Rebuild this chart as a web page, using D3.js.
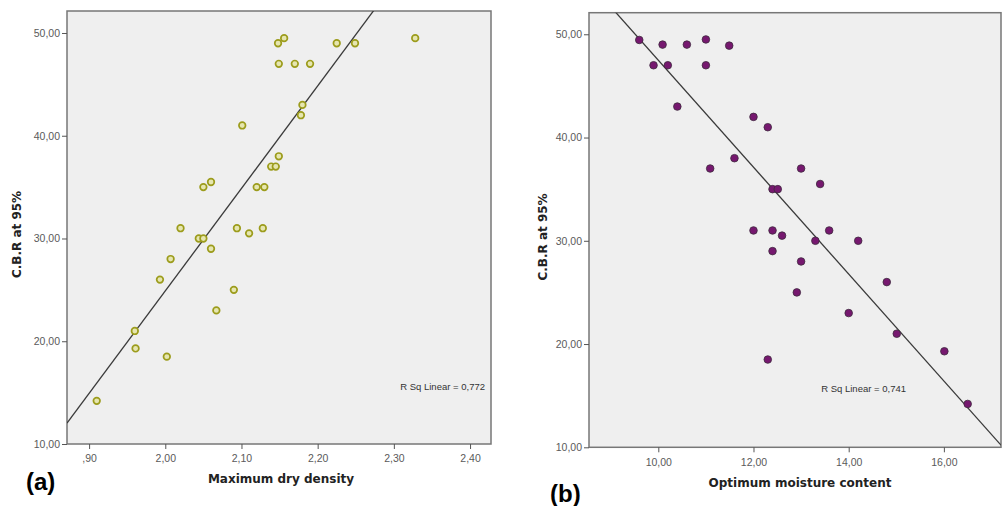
<!DOCTYPE html>
<html>
<head>
<meta charset="utf-8">
<script src="https://cdn.jsdelivr.net/npm/d3@7"></script>
<style>
  body { margin: 0; background: #fff; }
  svg { display: block; }
  .tick text { font-family: "Liberation Sans", Arial, sans-serif; font-size: 10.5px; fill: #5a5a5a; }
  .tick line { stroke: #555; }
  .domain { display: none; }
  .axis-title { font-family: "DejaVu Sans", Verdana, sans-serif; font-weight: bold; font-size: 12px; fill: #222; }
  .panel-tag { font-family: "Liberation Sans", Arial, sans-serif; font-weight: bold; font-size: 24px; fill: #000; }
  .rsq { font-family: "Liberation Sans", Arial, sans-serif; font-size: 9.5px; fill: #333; }
</style>
</head>
<body>
<div id="chart"></div>
<script>
// panel (a): maximum dry density vs CBR
const densityX = [1.91, 1.96, 1.961, 2.002, 1.993, 2.007, 2.02, 2.044, 2.05, 2.06, 2.05, 2.06, 2.101,
  2.067, 2.09, 2.094, 2.11, 2.128, 2.12, 2.13, 2.139, 2.145, 2.149, 2.178, 2.18,
  2.149, 2.17, 2.19, 2.148, 2.156, 2.225, 2.249, 2.328];
const densityCBR = [14.2, 21.0, 19.3, 18.5, 26.0, 28.0, 31.0, 30.0, 30.0, 29.0, 35.0, 35.5, 41.0,
  23.0, 25.0, 31.0, 30.5, 31.0, 35.0, 35.0, 37.0, 37.0, 38.0, 42.0, 43.0,
  47.0, 47.0, 47.0, 49.0, 49.5, 49.0, 49.0, 49.5];
const densityFit = [-174.6, 99.75]; // intercept, slope
const densityTicks = [1.9, 2.0, 2.1, 2.2, 2.3, 2.4];
const densityTickLabels = [",90", "2,00", "2,10", "2,20", "2,30", "2,40"];

// panel (b): optimum moisture content vs CBR
const moistureX = [9.6, 10.09, 10.6, 11.0, 11.49, 9.9, 10.2, 11.0, 10.4, 12.0, 11.6, 11.09, 12.0,
  12.3, 13.0, 13.4, 12.4, 12.51, 12.4, 12.6, 13.59, 13.3, 14.2, 12.4,
  13.0, 12.91, 14.8, 14.0, 15.01, 16.01, 12.3, 16.5];
const moistureCBR = [49.45, 49.0, 49.0, 49.5, 48.9, 47.0, 47.0, 47.0, 43.0, 42.0, 38.0, 37.0, 31.0,
  41.0, 37.0, 35.5, 35.0, 35.0, 31.0, 30.5, 31.0, 30.0, 30.0, 29.0,
  28.0, 25.0, 26.0, 23.0, 21.0, 19.3, 18.5, 14.2];
const moistureFit = [99.27, -5.178];
const moistureTicks = [10, 12, 14, 16];
const moistureTickLabels = ["10,00", "12,00", "14,00", "16,00"];

const cbrTicks = [10, 20, 30, 40, 50];
const cbrTickLabels = ["10,00", "20,00", "30,00", "40,00", "50,00"];

const width = 1002, height = 506;

const svg = d3.select("#chart").append("svg")
    .attr("width", width)
    .attr("height", height);

function drawPanel(opts) {
    const x = d3.scaleLinear().domain(opts.xDomain).range([opts.left, opts.right]);
    const y = d3.scaleLinear().domain(opts.yDomain).range([opts.bottom, opts.top]);
    const g = svg.append("g");

    const clipId = "clip-" + opts.name;
    g.append("clipPath").attr("id", clipId)
        .append("rect")
        .attr("x", opts.left).attr("y", opts.top)
        .attr("width", opts.right - opts.left).attr("height", opts.bottom - opts.top);

    g.append("rect")
        .attr("x", opts.left).attr("y", opts.top)
        .attr("width", opts.right - opts.left).attr("height", opts.bottom - opts.top)
        .attr("fill", "#efefef")
        .attr("stroke", "#777")
        .attr("stroke-width", 1.5);

    // axes
    g.append("g")
        .attr("transform", `translate(${opts.left},0)`)
        .call(d3.axisLeft(y).tickValues(cbrTicks).tickSize(5).tickPadding(2)
            .tickFormat((d, i) => cbrTickLabels[i]));

    g.append("g")
        .attr("transform", `translate(0,${opts.bottom})`)
        .call(d3.axisBottom(x).tickValues(opts.xTicks).tickSize(5).tickPadding(6)
            .tickFormat((d, i) => opts.xTickLabels[i]));

    // regression line
    const fx = v => opts.fit[0] + opts.fit[1] * v;
    g.append("line")
        .attr("clip-path", `url(#${clipId})`)
        .attr("x1", x(opts.xDomain[0])).attr("y1", y(fx(opts.xDomain[0])))
        .attr("x2", x(opts.xDomain[1])).attr("y2", y(fx(opts.xDomain[1])))
        .attr("stroke", "#3a3a3a")
        .attr("stroke-width", 1.3);

    // points
    g.append("g").selectAll("circle")
        .data(d3.zip(opts.xs, opts.ys))
        .enter().append("circle")
            .attr("cx", d => x(d[0]))
            .attr("cy", d => y(d[1]))
            .attr("r", opts.r)
            .attr("fill", opts.fill)
            .attr("stroke", opts.stroke)
            .attr("stroke-width", opts.strokeWidth);

    // titles
    g.append("text")
        .attr("class", "axis-title")
        .attr("text-anchor", "middle")
        .attr("transform", `translate(${opts.yTitleX},${(opts.top + opts.bottom) / 2 + 7}) rotate(-90)`)
        .text("C.B.R at 95%");

    g.append("text")
        .attr("class", "axis-title")
        .attr("text-anchor", "middle")
        .attr("x", opts.xTitleX)
        .attr("y", opts.xTitleY)
        .text(opts.xTitle);

    g.append("text")
        .attr("class", "rsq")
        .attr("text-anchor", "end")
        .attr("x", opts.rsqX)
        .attr("y", opts.rsqY)
        .text(opts.rsq);

    g.append("text")
        .attr("class", "panel-tag")
        .attr("x", opts.tagX)
        .attr("y", opts.tagY)
        .text(opts.tag);
}

drawPanel({
    name: "a",
    xs: densityX, ys: densityCBR, fit: densityFit,
    xDomain: [1.871, 2.4275], yDomain: [10, 52.14],
    left: 67, right: 491, top: 11, bottom: 444,
    xTicks: densityTicks, xTickLabels: densityTickLabels,
    r: 3.3, fill: "#e6e6b0", stroke: "#9c9c1c", strokeWidth: 1.7,
    yTitleX: 21, xTitle: "Maximum dry density", xTitleX: 281, xTitleY: 483,
    rsq: "R Sq Linear = 0,772", rsqX: 485, rsqY: 390,
    tag: "(a)", tagX: 26, tagY: 490
});

drawPanel({
    name: "b",
    xs: moistureX, ys: moistureCBR, fit: moistureFit,
    xDomain: [8.544, 17.2], yDomain: [10, 52.09],
    left: 589, right: 1001, top: 12.7, bottom: 447.3,
    xTicks: moistureTicks, xTickLabels: moistureTickLabels,
    r: 3.8, fill: "#76186f", stroke: "#3d2a3d", strokeWidth: 0.8,
    yTitleX: 547, xTitle: "Optimum moisture content", xTitleX: 800, xTitleY: 487,
    rsq: "R Sq Linear = 0,741", rsqX: 906, rsqY: 392,
    tag: "(b)", tagX: 550, tagY: 502
});
</script>
</body>
</html>
